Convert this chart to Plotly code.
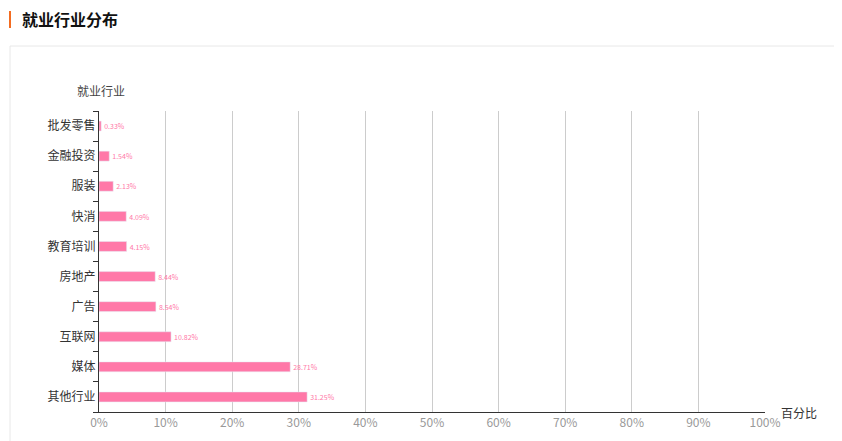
import plotly.graph_objects as go

industries = ["其他行业", "媒体", "互联网", "广告", "房地产", "教育培训", "快消", "服装", "金融投资", "批发零售"]
shares = [31.25, 28.71, 10.82, 8.54, 8.44, 4.15, 4.09, 2.13, 1.54, 0.33]
x_ticks = list(range(0, 101, 10))

W, H = 842, 441
L, R, T, B = 91, 85, 103, 37
pw, ph = W - L - R, H - T - B


def px(x):
    return (x - L) / pw


def py(y):
    return (H - B - y) / ph


font = "Noto Sans CJK SC, Microsoft YaHei, sans-serif"

fig = go.Figure(go.Bar(
    x=shares, y=industries, orientation="h",
    marker_color="#ff78a8", width=0.33,
    text=[f"{v:.2f}%" for v in shares], textposition="outside",
    textfont=dict(color="#ff78a8", size=12), cliponaxis=False,
))

fig.update_layout(
    width=W, height=H, margin=dict(l=L, r=R, t=T, b=B),
    paper_bgcolor="white", plot_bgcolor="white",
    font=dict(family=font, size=12, color="#333"),
    showlegend=False,
    xaxis=dict(range=[0, 100], tickvals=x_ticks, ticktext=[f"{v}%" for v in x_ticks],
               showgrid=True, gridcolor="#ccc", zeroline=False,
               showline=True, linecolor="#333", ticks="", tickfont=dict(color="#999")),
    yaxis=dict(type="category", categoryorder="array", categoryarray=industries,
               showline=True, linecolor="#333", ticks="outside", tickson="boundaries",
               ticklen=5, tickcolor="#333", showgrid=False),
    shapes=[
        dict(type="rect", xref="paper", yref="paper", x0=px(2), x1=px(840), y0=py(440), y1=py(38),
             line=dict(color="#e8e8e8", width=1), layer="below"),
        dict(type="rect", xref="paper", yref="paper", x0=px(1), x1=px(3), y0=py(20), y1=py(3),
             line=dict(width=0), fillcolor="#f36c21"),
    ],
    annotations=[
        dict(text="<b>就业行业分布</b>", xref="paper", yref="paper", x=px(12), y=py(11),
             xanchor="left", yanchor="middle", showarrow=False, font=dict(size=16, color="#111")),
        dict(text="就业行业", xref="paper", yref="paper", x=px(67), y=py(82),
             xanchor="left", yanchor="middle", showarrow=False, font=dict(size=12, color="#444")),
        dict(text="百分比", xref="paper", yref="paper", x=px(771), y=py(404),
             xanchor="left", yanchor="middle", showarrow=False, font=dict(size=12, color="#333")),
    ],
)

fig.write_html("out.html")
